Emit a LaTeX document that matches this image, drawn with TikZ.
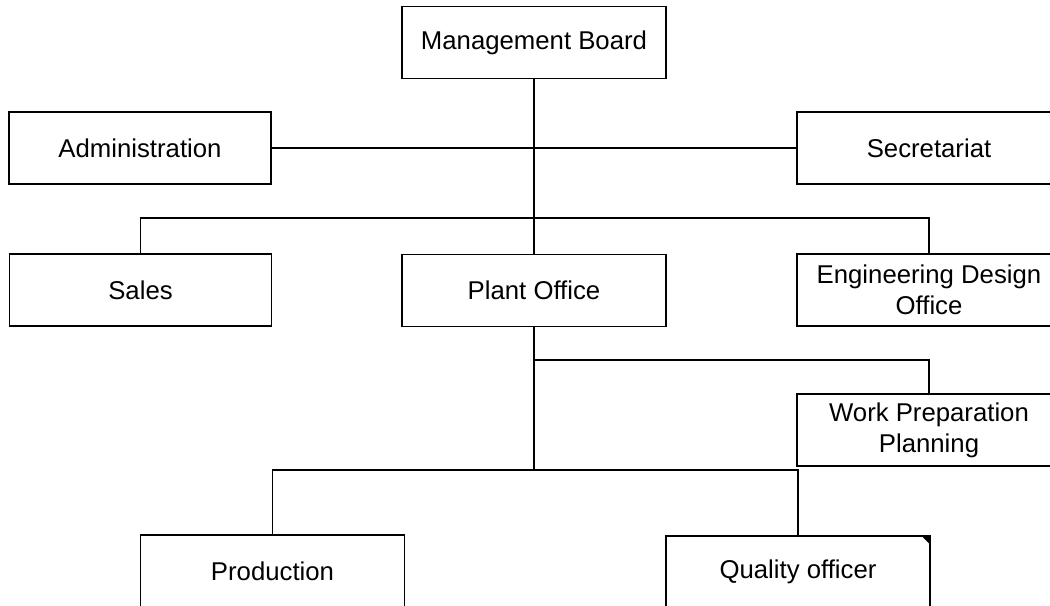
\documentclass[tikz,border=0pt]{standalone}
\usepackage{fontspec}
\setmainfont{Liberation Sans}
\usepackage{tikz}

\tikzset{unit/.style={draw, line width=1.2pt, minimum width=6.6cm, minimum height=1.8cm,
	align=center, inner sep=2pt, font=\fontsize{18.3}{22}\selectfont}}

\begin{document}
\begin{tikzpicture}[x=0.025cm, y=-0.025cm, line width=1.2pt]
\useasboundingbox (0,0) rectangle (1050,605);
\clip (0,0) rectangle (1050,605);
\path (534,42.5) node[unit] (mb) {Management Board}
		(140,148) node[unit, minimum width=6.55cm] (adm) {Administration}
		(929,148) node[unit] (sec) {Secretariat}
		(140.5,290) node[unit, minimum width=6.55cm] (sales) {Sales}
		(534,290.5) node[unit] (plant) {Plant Office}
		(929,290) node[unit] (edo) {Engineering Design\\Office}
		(929,430) node[unit] (wpp) {Work Preparation\\Planning}
		(272.5,571) node[unit] (prod) {Production}
		(798,572) node[unit] (qo) {Quality officer};

\coordinate (j1) at (534,218);
\coordinate (j2) at (534,360);
\coordinate (j3) at (534,470);

\draw (mb) -- (plant);
\draw (adm) -- (sec);
\draw (sales.north) |- (j1) -| (edo.north);
\draw (plant) -- (j3);
\draw (j2) -| (wpp.north);
\draw (prod.north) |- (j3) -| (qo.north);

\fill (qo.north east) -- ++(-10,0) -- ++(10,10) -- cycle;
\end{tikzpicture}
\end{document}
